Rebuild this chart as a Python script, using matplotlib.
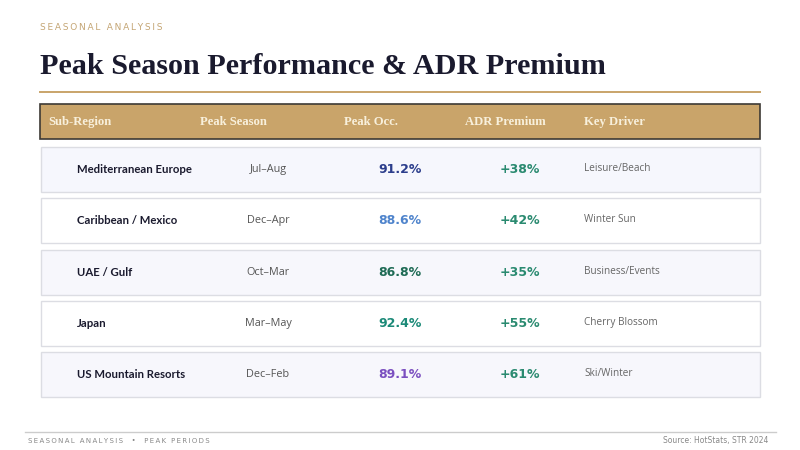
import matplotlib
matplotlib.use("Agg")
import matplotlib.pyplot as plt
from matplotlib.patches import Rectangle

# donnees du tableau
regions = ["Mediterranean Europe", "Caribbean / Mexico", "UAE / Gulf", "Japan", "US Mountain Resorts"]
seasons = ["Jul\u2013Aug", "Dec\u2013Apr", "Oct\u2013Mar", "Mar\u2013May", "Dec\u2013Feb"]
peak_occ = [91.2, 88.6, 86.8, 92.4, 89.1]
adr_premium = [38, 42, 35, 55, 61]
drivers = ["Leisure/Beach", "Winter Sun", "Business/Events", "Cherry Blossom", "Ski/Winter"]
headers = ["Sub-Region", "Peak Season", "Peak Occ.", "ADR Premium", "Key Driver"]

occ_colors = ["#2c3e8c", "#4f84cc", "#1f6b55", "#1c8a78", "#7b4fc0"]
row_fills = ["#f6f7fd", "#ffffff", "#f7f7fc", "#ffffff", "#f7f7fc"]
gold = "#c9a46a"


def spaced(s):
    # espacement des lettres (petites capitales)
    return "\u2009".join(s)


fig = plt.figure(figsize=(8, 4.5), dpi=100)
ax = fig.add_axes([0, 0, 1, 1])
ax.set_xlim(0, 800)
ax.set_ylim(450, 0)
ax.axis("off")

# en-tete
ax.text(40, 27, spaced("SEASONAL ANALYSIS"), fontsize=6.5, color="#c4a574",
        va="center", ha="left", family="DejaVu Sans")
ax.text(40, 66, "Peak Season Performance & ADR Premium", fontsize=21.7,
        fontweight="bold", color="#1a1a2e", va="center", ha="left",
        family="Liberation Serif")
ax.plot([40, 760], [92, 92], color=gold, lw=1.4)

# barre des titres de colonnes
ax.add_patch(Rectangle((40, 104), 720, 35, facecolor="#c9a46a",
                       edgecolor="#3d3a35", lw=1.2))
col_x = [48, 200, 344, 465, 584]
for x, h in zip(col_x, headers):
    ax.text(x, 122, h, fontsize=9.1, fontweight="bold", color="#f8f0dc",
            va="center", ha="left", family="Liberation Serif")

# lignes du tableau
for i in range(len(regions)):
    top = 147 + i * 51.3
    yc = top + 22.5
    ax.add_patch(Rectangle((41, top), 719, 45, facecolor=row_fills[i],
                           edgecolor="#dcdde3", lw=1))
    ax.text(77, yc, regions[i], fontsize=8.2, fontweight="bold",
            color="#1a1a2e", va="center", ha="left", family=["Lato", "DejaVu Sans"])
    ax.text(268, yc, seasons[i], fontsize=7.8, color="#555555",
            va="center", ha="center", family="Open Sans")
    ax.text(400, yc, f"{peak_occ[i]:.1f}%", fontsize=9, fontweight="bold",
            color=occ_colors[i], va="center", ha="center")
    ax.text(520, yc, f"+{adr_premium[i]}%", fontsize=9, fontweight="bold",
            color="#2a8a70", va="center", ha="center")
    ax.text(584, yc - 1, drivers[i], fontsize=7.2, color="#666666",
            va="center", ha="left", family="Open Sans")

# pied de page
ax.plot([25, 776], [432, 432], color="#cccccc", lw=1)
ax.text(28, 441, spaced("SEASONAL ANALYSIS  \u2022  PEAK PERIODS"), fontsize=5.0,
        color="#888888", va="center", ha="left")
ax.text(768, 441, "Source: HotStats, STR 2024", fontsize=5.5,
        color="#888888", va="center", ha="right")

fig.savefig("out.png", dpi=100, facecolor="white")
